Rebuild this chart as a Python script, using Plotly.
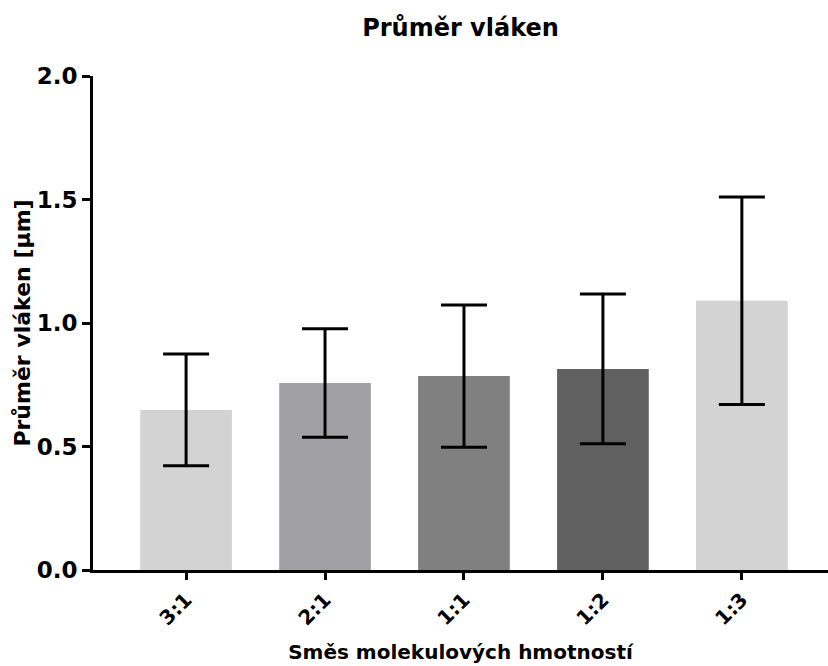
import plotly.graph_objects as go

categories = ["3:1", "2:1", "1:1", "1:2", "1:3"]
means = [0.648, 0.757, 0.785, 0.814, 1.090]
sds = [0.226, 0.220, 0.288, 0.303, 0.420]
colors = ["#d3d3d3", "#a1a0a4", "#808080", "#606060", "#d3d3d3"]
y_ticks = [0.0, 0.5, 1.0, 1.5, 2.0]
y_tick_labels = ["0.0", "0.5", "1.0", "1.5", "2.0"]

FONT = "DejaVu Sans, sans-serif"

fig = go.Figure()
fig.add_trace(go.Bar(
    x=categories, y=means,
    marker=dict(color=colors, line=dict(width=0)),
    width=0.66,
    error_y=dict(type="data", array=sds, visible=True, color="black",
                 thickness=3, width=23),
    showlegend=False,
))

fig.update_layout(
    width=828, height=666,
    margin=dict(l=93, r=0, t=76, b=96),
    paper_bgcolor="white", plot_bgcolor="white",
    title=dict(text="<b>Průměr vláken</b>", x=0.5, xref="paper", xanchor="center",
               y=0.958, yanchor="middle",
               font=dict(family=FONT, size=24, color="black")),
    font=dict(family=FONT, color="black"),
)
fig.update_xaxes(
    type="category", range=[-0.67, 4.62],
    showline=True, linecolor="black", linewidth=3,
    ticks="outside", ticklen=7, tickwidth=3, tickcolor="black",
    tickangle=-45, tickfont=dict(family=FONT, size=20, color="black", weight="bold"),
    showgrid=False, zeroline=False,
    title=dict(text="<b>Směs molekulových hmotností</b>",
               font=dict(family=FONT, size=20, color="black"), standoff=17),
)
fig.update_yaxes(
    range=[0, 2], tickvals=y_ticks, ticktext=y_tick_labels,
    showline=True, linecolor="black", linewidth=3,
    ticks="outside", ticklen=8, tickwidth=3, tickcolor="black",
    tickfont=dict(family=FONT, size=23, color="black", weight="bold"),
    showgrid=False, zeroline=False,
    title=dict(text="<b>Průměr vláken [µm]</b>",
               font=dict(family=FONT, size=22, color="black"), standoff=0),
)

fig.write_html("out.html")
